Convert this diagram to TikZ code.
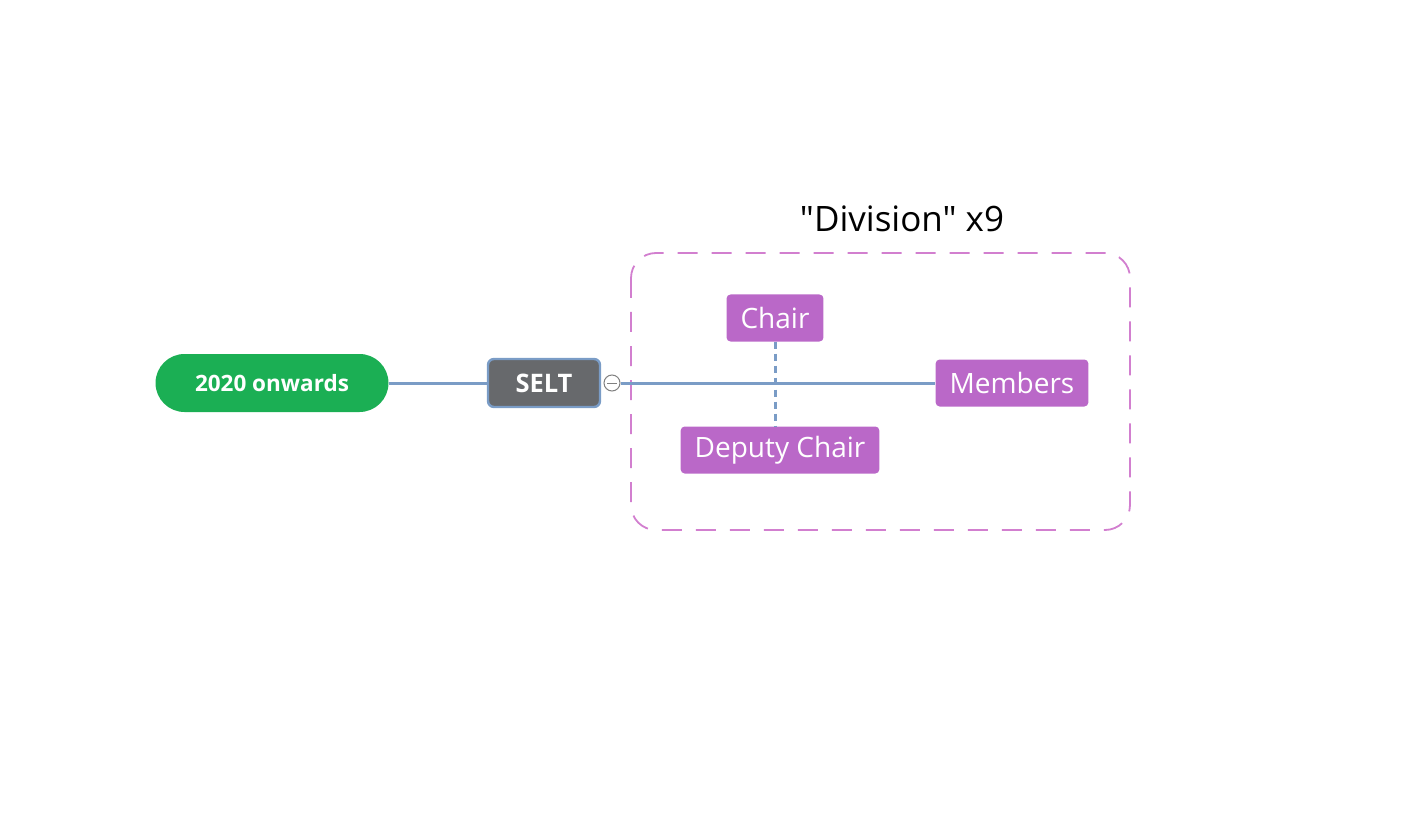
\documentclass[tikz,border=0pt]{standalone}
\usepackage{fontspec}
\setmainfont{Open Sans}
\newfontfamily\titlefont{Open Sans}
\usepackage{tikz}
\usetikzlibrary{positioning}

\definecolor{eragreen}{HTML}{1BAF54}
\definecolor{seltgray}{HTML}{67696C}
\definecolor{linkblue}{HTML}{7A9CC6}
\definecolor{divpurple}{HTML}{BA68C8}
\definecolor{boxpink}{HTML}{D27FCF}

\begin{document}
\begin{tikzpicture}[x=1pt, y=-1pt,
    link/.style={draw=linkblue, line width=3pt},
    rolebox/.style={fill=divpurple, text=white, rounded corners=4pt,
      font=\fontsize{28}{32}\selectfont, minimum height=47pt, inner xsep=14pt}
  ]
  \useasboundingbox (0,0) rectangle (1403,826);

  % division frame and its title
  \draw[boxpink, line width=1.8pt, dash pattern=on 20pt off 14pt, rounded corners=25pt]
    (631,253) rectangle (1130,530);
  \node (title) at (902,219) {\titlefont\fontsize{35}{40}\selectfont "Division" x9};

  % main chain
  \node[fill=eragreen, text=white, rounded corners=29pt, minimum width=233pt,
    minimum height=58pt, font=\bfseries\fontsize{22.5}{26}\selectfont] (era) at (272,383) {2020 onwards};
  \node[fill=seltgray, draw=linkblue, line width=2.4pt, text=white, rounded corners=6pt,
    minimum width=112pt, minimum height=48pt, font=\bfseries\fontsize{25.5}{30}\selectfont] (selt) at (544,383) {SELT};
  \node[draw=gray, fill=white, circle, line width=1pt, minimum size=16pt, inner sep=0pt] (fold) at (612,383) {};
  \draw[gray, line width=1pt] ([xshift=-5pt]fold.center) -- ([xshift=5pt]fold.center);

  % roles
  \node[rolebox] (chair) at (775,318) {Chair};
  \node[rolebox] (deputy) at (780,450) {Deputy Chair};
  \node[rolebox] (members) at (1012,383) {Members};

  \draw[link] (era) -- (selt);
  \draw[link] (fold) -- (members);
  \draw[link, dash pattern=on 7pt off 5pt] (chair.south -| 775,0) -- (deputy.north -| 775,0);
\end{tikzpicture}
\end{document}
